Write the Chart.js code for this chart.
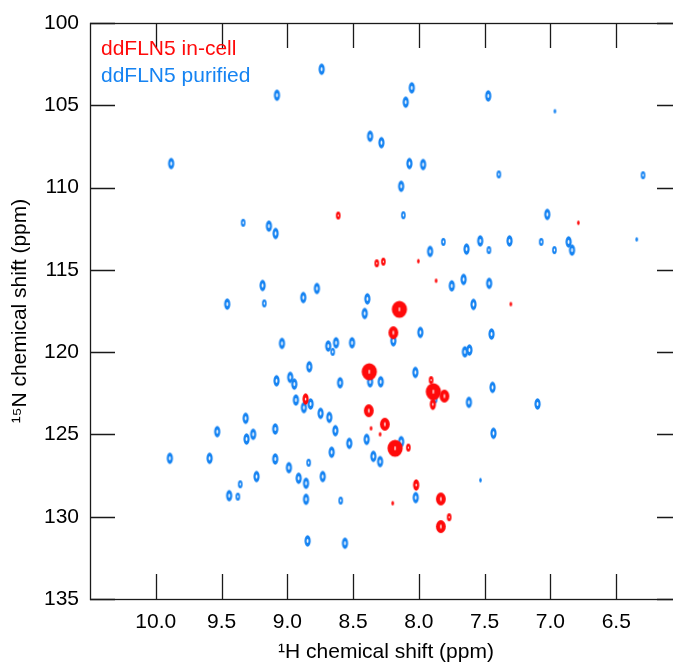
<!DOCTYPE html>
<html>
<head>
<meta charset="utf-8">
<script src="https://cdn.jsdelivr.net/npm/chart.js@4"></script>
<style>
  html, body { margin: 0; padding: 0; background: #fff; overflow: hidden; }
  #wrap { width: 692px; height: 666px; }
</style>
</head>
<body>
<div id="wrap"><canvas id="hsqc" width="692" height="666"></canvas></div>
<script>
// 1H (ppm), 15N (ppm) and rough peak height (1 = weak ... 5 = strong)
const inCellH = [8.613, 6.788, 8.32, 8.27, 8.004, 7.869, 7.301, 8.148, 8.194, 8.377, 8.861, 7.907, 7.89, 7.806, 7.894, 8.381, 8.259, 8.364, 8.295, 8.181, 8.08, 8.021, 8.199, 7.833, 7.77, 7.833];
const inCellN = [111.70, 112.14, 114.60, 114.50, 114.47, 115.66, 117.08, 117.40, 118.82, 121.19, 122.85, 121.70, 122.40, 122.67, 123.17, 123.56, 124.38, 124.63, 124.99, 125.84, 125.80, 128.07, 129.18, 128.92, 130.03, 130.60];
const inCellHeight = [2, 1, 2, 2, 1, 1, 1, 5, 4, 5, 3, 2, 5, 4, 3, 4, 4, 1, 1, 5, 2, 3, 1, 4, 2, 4];

const purifiedH = [8.739, 9.079, 9.883, 8.054, 8.10, 7.473, 6.966, 8.371, 8.285, 8.072, 7.968, 7.392, 6.296, 8.135, 8.118, 7.024, 9.336, 9.14, 9.089, 6.344,
  7.915, 7.814, 7.638, 7.534, 7.468, 7.311, 7.07, 6.97, 6.862, 6.836, 7.75, 7.66, 7.466, 9.188, 8.775, 9.457, 9.175, 8.879, 8.392, 8.412,
  7.585, 8.194, 7.989, 7.448, 9.041, 8.689, 8.655, 8.63, 8.508, 7.65, 7.616, 8.371, 8.29, 8.833, 9.082, 8.978, 8.947, 8.599, 8.027, 7.877,
  7.44, 7.62, 7.098, 8.935, 8.823, 8.874, 8.747, 8.681, 9.317, 9.533, 9.31, 9.26, 9.092, 8.635, 8.397, 8.529, 8.135, 9.893, 9.591, 9.092,
  8.663, 8.346, 8.295, 8.988, 8.838, 8.914, 8.731, 8.858, 9.234, 9.358, 9.442, 9.376, 8.858, 8.594, 8.846, 8.562, 7.433, 8.024, 7.532];
const purifiedN = [102.81, 104.39, 108.54, 103.94, 104.81, 104.43, 105.36, 106.88, 107.27, 108.54, 108.60, 109.20, 109.25, 109.92, 111.68, 111.63, 112.14, 112.34, 112.79, 113.15,
  113.88, 113.30, 113.74, 113.24, 113.80, 113.24, 113.30, 113.80, 113.30, 113.80, 115.97, 115.58, 115.82, 115.95, 116.13, 117.08, 117.04, 116.68, 116.76, 117.65,
  117.10, 119.31, 118.80, 118.90, 119.47, 119.63, 119.98, 119.43, 119.43, 119.98, 119.87, 121.80, 121.80, 120.89, 121.74, 121.53, 121.94, 121.86, 121.23, 122.87,
  122.14, 123.05, 123.15, 122.91, 123.15, 123.37, 123.72, 123.96, 124.02, 124.83, 125.28, 124.99, 124.67, 124.77, 125.30, 125.54, 125.44, 126.45, 126.45, 126.49,
  126.08, 126.33, 126.65, 127.02, 126.72, 127.66, 127.56, 127.97, 127.56, 128.03, 128.72, 128.78, 128.94, 129.02, 131.47, 131.61, 124.93, 128.84, 127.78];
const purifiedHeight = [3, 3, 3, 3, 3, 3, 1, 3, 3, 3, 3, 2, 2, 3, 2, 3, 2, 3, 3, 1,
  3, 2, 3, 3, 2, 3, 2, 2, 3, 3, 3, 3, 3, 3, 3, 3, 2, 3, 3, 3,
  3, 3, 3, 3, 3, 3, 2, 3, 3, 3, 3, 3, 3, 3, 3, 3, 3, 3, 3, 2,
  3, 3, 3, 3, 3, 3, 3, 3, 3, 3, 3, 3, 3, 3, 3, 3, 3, 3, 3, 3,
  3, 3, 3, 3, 2, 3, 3, 3, 3, 2, 3, 2, 3, 2, 3, 3, 3, 3, 1];

const hTicks = [10.0, 9.5, 9.0, 8.5, 8.0, 7.5, 7.0, 6.5];
const nTicks = [100, 105, 110, 115, 120, 125, 130, 135];

const RED = '#ff0a0a';
const BLUE = '#1583f2';

// contour-like ellipse glyphs, cached per colour/level
const glyphSize = { 1: [1.3, 2.3], 2: [2.3, 4.0], 3: [3.1, 5.7], 4: [4.9, 6.4], 5: [7.6, 8.6] };
const glyphCache = {};
function peakGlyph(color, level, hole) {
  const key = color + level;
  if (glyphCache[key]) return glyphCache[key];
  const [rx, ry] = glyphSize[level];
  const c = document.createElement('canvas');
  c.width = Math.ceil(rx * 2 + 4);
  c.height = Math.ceil(ry * 2 + 4);
  const g = c.getContext('2d');
  const cx = c.width / 2, cy = c.height / 2;
  g.fillStyle = color;
  g.beginPath(); g.ellipse(cx, cy, rx, ry, 0, 0, Math.PI * 2); g.fill();
  if (level >= 2) {
    const hx = level >= 4 ? 0.7 : Math.max(0.6, rx * hole);
    const hy = level >= 4 ? 2.2 : ry * (hole + 0.05);
    g.fillStyle = '#fff';
    g.beginPath(); g.ellipse(cx, cy, hx, hy, 0, 0, Math.PI * 2); g.fill();
  }
  glyphCache[key] = c;
  return c;
}

function points(hs, ns) {
  return hs.map((h, i) => ({ x: h, y: ns[i] }));
}

const frame = {
  id: 'frame',
  afterDatasetsDraw(chart) {
    const { ctx, chartArea: a, scales: { x, y } } = chart;
    const len = 25;
    ctx.save();
    ctx.strokeStyle = '#1a1a1a';
    ctx.lineWidth = 1.3;
    ctx.beginPath();
    hTicks.forEach(v => {
      const px = Math.round(x.getPixelForValue(v)) + 0.5;
      ctx.moveTo(px, a.bottom); ctx.lineTo(px, a.bottom - len);
      ctx.moveTo(px, a.top); ctx.lineTo(px, a.top + len);
    });
    nTicks.forEach(v => {
      const py = Math.round(y.getPixelForValue(v)) + 0.5;
      ctx.moveTo(a.left, py); ctx.lineTo(a.left + len, py);
      ctx.moveTo(a.right, py); ctx.lineTo(a.right - len, py);
    });
    ctx.stroke();
    ctx.strokeRect(Math.round(a.left) + 0.5, Math.round(a.top) + 0.5, Math.round(a.right - a.left), Math.round(a.bottom - a.top));

    // legend in the upper-left corner
    ctx.font = '21px "Liberation Sans", Arial, sans-serif';
    ctx.textBaseline = 'alphabetic';
    chart.data.datasets.forEach((ds, i) => {
      ctx.fillStyle = ds.textColor;
      ctx.fillText(ds.label, a.left + 11, a.top + 32 + i * 26.5);
    });
    ctx.restore();
  }
};

Chart.defaults.font.family = '"Liberation Sans", Arial, Helvetica, sans-serif';
Chart.defaults.color = '#000';

new Chart(document.getElementById('hsqc'), {
  type: 'scatter',
  data: {
    datasets: [
      {
        label: 'ddFLN5 in-cell',
        textColor: RED,
        data: points(inCellH, inCellN),
        pointStyle: c => peakGlyph(RED, inCellHeight[c.dataIndex], 0.22),
        pointRadius: 5
      },
      {
        label: 'ddFLN5 purified',
        textColor: BLUE,
        data: points(purifiedH, purifiedN),
        pointStyle: c => peakGlyph(BLUE, purifiedHeight[c.dataIndex], 0.3),
        pointRadius: 5
      }
    ]
  },
  options: {
    responsive: false,
    animation: false,
    layout: { padding: { left: 0, right: 10, top: 23, bottom: 0 } },
    plugins: { legend: { display: false }, tooltip: { enabled: false } },
    scales: {
      x: {
        type: 'linear',
        reverse: true,
        min: 6.0,
        max: 10.5,
        grid: { display: false },
        border: { display: false },
        afterBuildTicks: s => { s.ticks = hTicks.map(v => ({ value: v })); },
        afterFit: s => { s.height = 67; },
        ticks: { font: { size: 21 }, padding: 3, maxRotation: 0, callback: v => v.toFixed(1) },
        title: { display: true, text: '¹H chemical shift (ppm)', font: { size: 21 }, padding: { top: 0, bottom: 1 } }
      },
      y: {
        type: 'linear',
        reverse: true,
        min: 100,
        max: 135,
        grid: { display: false },
        border: { display: false },
        afterBuildTicks: s => { s.ticks = nTicks.map(v => ({ value: v })); },
        afterFit: s => { s.width = 90; },
        ticks: { font: { size: 21 }, padding: 3 },
        title: { display: true, text: '¹⁵N chemical shift (ppm)', font: { size: 21 }, padding: { top: 8, bottom: 0 } }
      }
    }
  },
  plugins: [frame]
});
</script>
</body>
</html>
